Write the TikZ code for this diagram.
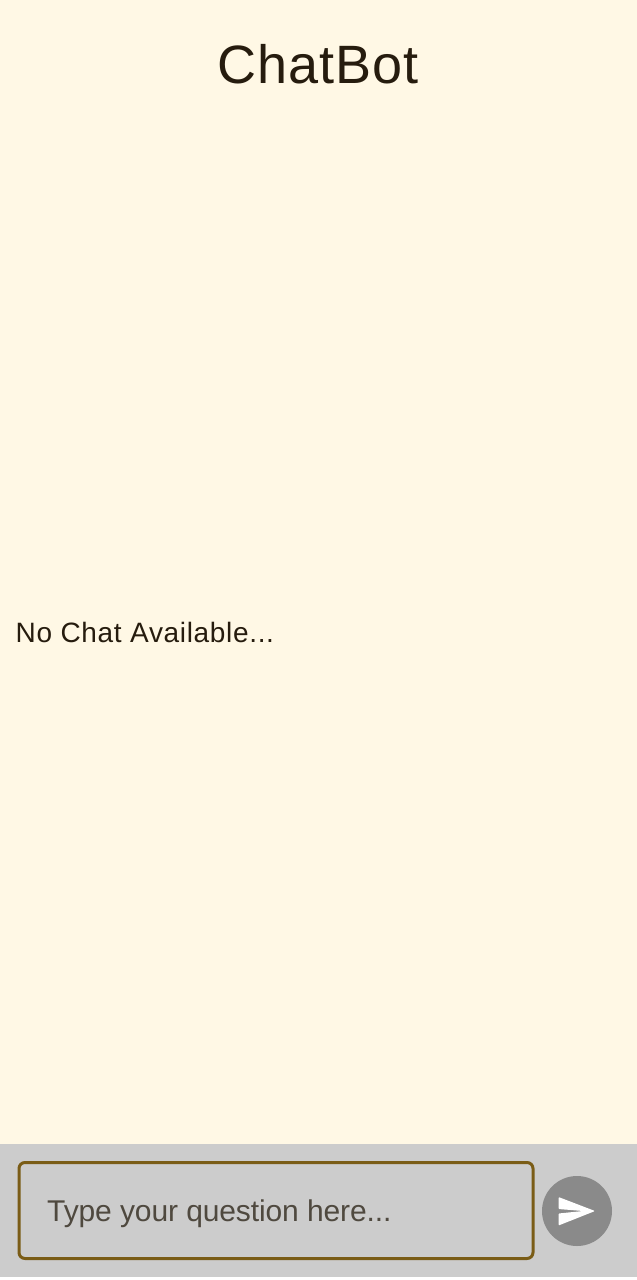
\documentclass[tikz,border=0pt]{standalone}
\usepackage{fontspec}
\setmainfont{Liberation Sans}
\definecolor{pagebg}{HTML}{FFF8E5}
\definecolor{barbg}{HTML}{CCCCCC}
\definecolor{inkc}{HTML}{261C0E}
\definecolor{hintc}{HTML}{4F493F}
\definecolor{borderc}{HTML}{7A5C16}
\definecolor{sendc}{HTML}{8A8A8A}
\tikzset{
  label text/.style={inner sep=0pt,text=inkc,anchor=base west},
}
\begin{document}
\begin{tikzpicture}[x=1pt,y=-1pt]
\useasboundingbox (0,0) rectangle (637,1280);
\fill[white] (0,0) rectangle (637,1280);
\fill[pagebg] (0,0) rectangle (637,1144);
\fill[barbg] (0,1144) rectangle (637,1277);
\node[label text,font=\fontsize{54}{60}\selectfont\addfontfeature{LetterSpace=1.9}] (title) at (217,83) {ChatBot};
\node[label text,font=\fontsize{28}{34}\selectfont\addfontfeature{LetterSpace=2.4}] (empty) at (15.5,642) {No Chat Available...};
\draw[borderc,line width=3pt,rounded corners=6pt] (19,1162.5) rectangle (533,1258.5);
\node[label text,text=hintc,font=\fontsize{30}{36}\selectfont\addfontfeature{LetterSpace=-0.4}] (hint) at (47,1221) {Type your question here...};
\fill[sendc] (577,1211) circle (35);
\fill[white,rounded corners=1pt] (558.5,1197) -- (595,1211) -- (558.5,1225.5) -- (558.5,1213.5) -- (583,1211) -- (558.5,1209) -- cycle;
\end{tikzpicture}
\end{document}
